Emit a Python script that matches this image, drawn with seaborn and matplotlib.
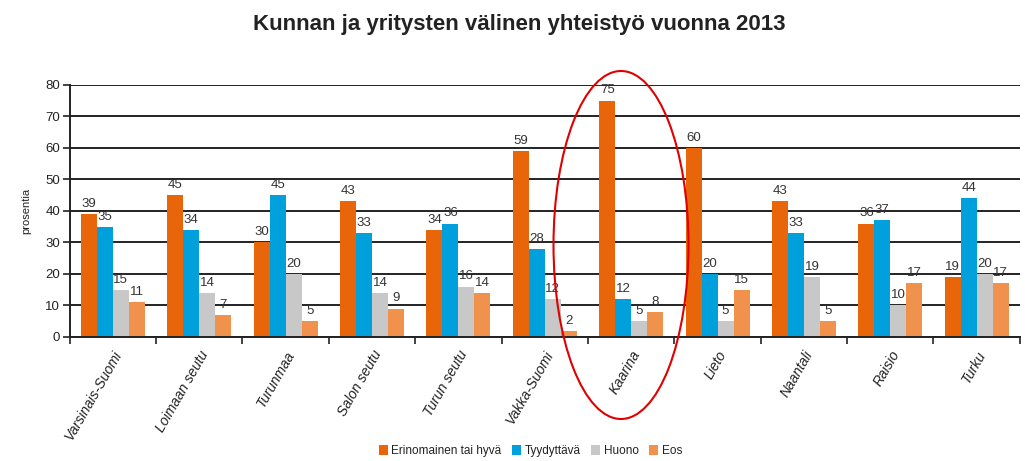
import matplotlib
matplotlib.use("Agg")
import matplotlib.pyplot as plt
from matplotlib.patches import Ellipse
import seaborn as sns
import pandas as pd

categories = ["Varsinais-Suomi", "Loimaan seutu", "Turunmaa", "Salon seutu", "Turun seutu",
              "Vakka-Suomi", "Kaarina", "Lieto", "Naantali", "Raisio", "Turku"]
series_names = ["Erinomainen tai hyvä", "Tyydyttävä", "Huono", "Eos"]
erinomainen = [39, 45, 30, 43, 34, 59, 75, 60, 43, 36, 19]
tyydyttava = [35, 34, 45, 33, 36, 28, 12, 20, 33, 37, 44]
huono = [15, 14, 20, 14, 16, 12, 5, 5, 19, 10, 20]
eos = [11, 7, 5, 9, 14, 2, 8, 15, 5, 17, 17]
colors = ["#E8650A", "#00A0DC", "#C8C8C8", "#F0924C"]

rows = []
for name, vals in zip(series_names, [erinomainen, tyydyttava, huono, eos]):
    for c, v in zip(categories, vals):
        rows.append({"alue": c, "sarja": name, "arvo": v})
df = pd.DataFrame(rows)

sns.set_theme(style="white")
plt.rcParams['font.family'] = ['Liberation Sans', 'DejaVu Sans']

fig = plt.figure(figsize=(10.25, 4.61), dpi=100)
ax = fig.add_axes([0.068, 0.269, 0.927, 0.547])

sns.barplot(data=df, x="alue", y="arvo", hue="sarja", order=categories,
            hue_order=series_names, palette=colors, width=0.74, ax=ax,
            saturation=1, errorbar=None, legend=True, linewidth=0)

ax.set_ylim(0, 80)
ax.set_yticks(range(0, 81, 10))
ax.yaxis.grid(True, color="#222222", linewidth=1.4)
ax.set_axisbelow(True)
for s in ["top", "right"]:
    ax.spines[s].set_visible(False)
for s in ["left", "bottom"]:
    ax.spines[s].set_color("#222222")
    ax.spines[s].set_linewidth(1.4)
ax.set_xlim(-0.5, len(categories) - 0.5)
ax.tick_params(axis="y", which="major", length=5, width=1.2, color="#222222",
               labelsize=9.5, labelcolor="#222222", direction="out", left=True, pad=2)
ax.set_xticks([i - 0.5 for i in range(len(categories) + 1)], minor=True)
ax.tick_params(axis="x", which="minor", length=5, width=1.2, color="#222222",
               direction="out", bottom=True)
ax.tick_params(axis="x", which="major", length=0, labelsize=10, labelcolor="#222222", pad=8)
ax.set_xticks(range(len(categories)))
ax.set_xticklabels(categories, rotation=60, ha="right", rotation_mode="anchor", fontstyle="italic")
ax.set_xlabel("")
ax.set_ylabel("prosentia", fontsize=8, color="#222222", labelpad=10)

for cont in ax.containers:
    ax.bar_label(cont, fontsize=9.5, color="#333333", padding=3)

ax.legend(loc="upper center", bbox_to_anchor=(0.485, -0.385), ncol=4, frameon=False,
          fontsize=8.5, handlelength=0.75, handleheight=1.0, handletextpad=0.3,
          columnspacing=0.9, labelcolor="#222222")

fig.suptitle("Kunnan ja yritysten välinen yhteistyö vuonna 2013", x=0.507, y=0.97,
             fontsize=16, fontweight="bold", color="#222222")

ell = Ellipse((621, 461 - 245), width=135, height=348, fill=False, edgecolor="#E00000",
              linewidth=1.5, transform=None)
fig.patches.append(ell)

fig.savefig("out.png", dpi=100)
